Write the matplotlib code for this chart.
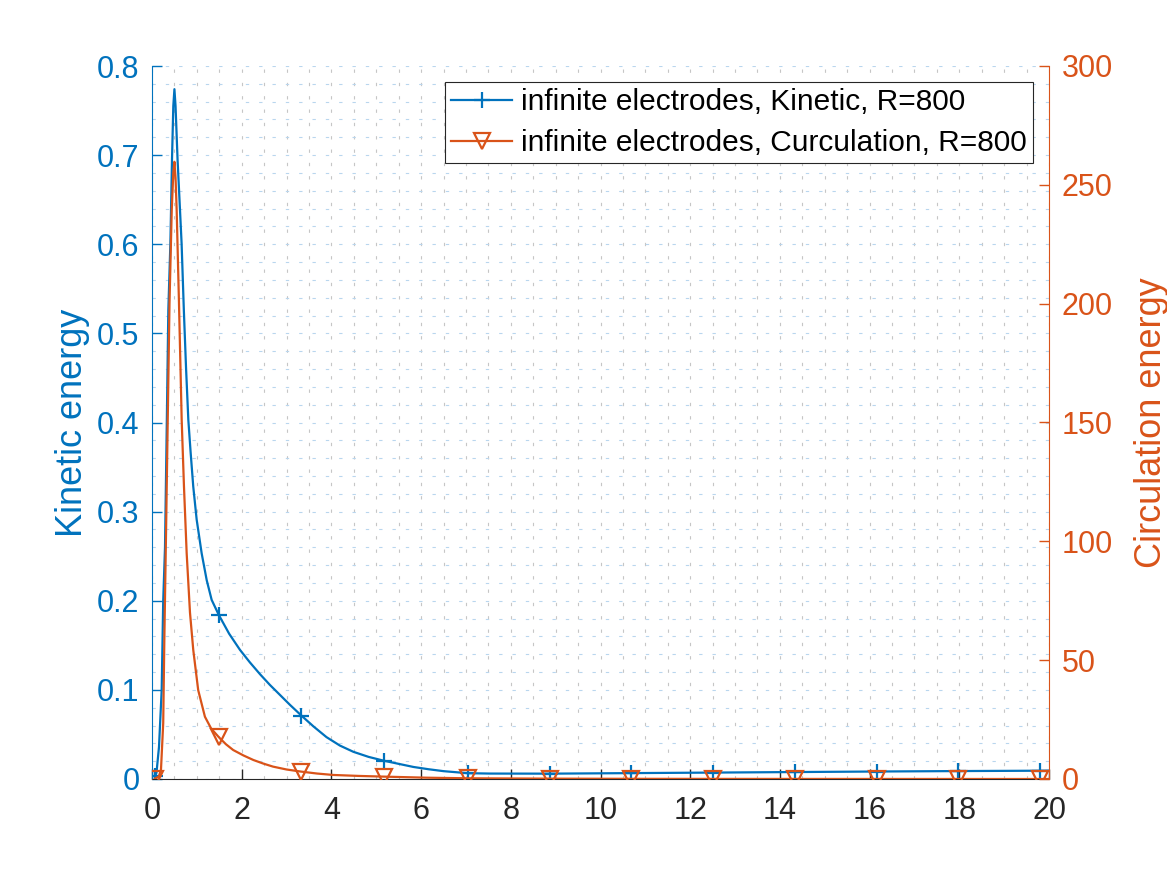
import matplotlib
matplotlib.use("Agg")
import matplotlib.pyplot as plt
import numpy as np
from matplotlib.ticker import MultipleLocator, FormatStrFormatter

plt.rcParams["font.family"] = ["Liberation Sans", "DejaVu Sans"]

BLUE = "#0072BD"
ORANGE = "#D95319"
DARK = "#262626"

# Kinetic energy (left axis)
kin_x = [0.07, 0.10, 0.156, 0.216, 0.25, 0.29, 0.33, 0.364, 0.41, 0.446, 0.475, 0.50,
         0.525, 0.57, 0.66, 0.71, 0.76, 0.81, 0.862, 0.92, 0.996, 1.108, 1.22, 1.33,
         1.49, 1.72, 1.96, 2.18, 2.41, 2.63, 2.85, 3.08, 3.33, 3.60, 3.89, 4.19, 4.49,
         4.83, 5.17, 5.50, 5.83, 6.16, 6.50, 7.04, 7.54, 8.87, 10.68, 12.51, 14.34,
         16.16, 17.98, 19.81, 20.0]
kin_y = [0.003, 0.007, 0.036, 0.10, 0.20, 0.26, 0.40, 0.526, 0.601, 0.695, 0.755, 0.774,
         0.755, 0.695, 0.601, 0.526, 0.46, 0.403, 0.366, 0.328, 0.291, 0.253, 0.223, 0.201,
         0.184, 0.163, 0.145, 0.131, 0.1175, 0.1055, 0.0945, 0.083, 0.0712, 0.059, 0.047,
         0.0375, 0.0305, 0.0248, 0.0205, 0.017, 0.0135, 0.011, 0.0088, 0.0065, 0.0061,
         0.0060, 0.0066, 0.0072, 0.0078, 0.0084, 0.0089, 0.0093, 0.0094]

# Circulation energy (right axis)
circ_x = [0.07, 0.15, 0.20, 0.25, 0.275, 0.31, 0.39, 0.44, 0.475, 0.50, 0.525, 0.55,
          0.60, 0.662, 0.713, 0.773, 0.847, 0.92, 1.03, 1.18, 1.32, 1.49, 1.65, 1.81,
          2.04, 2.26, 2.48, 2.70, 3.0, 3.33, 3.68, 4.04, 4.6, 5.17, 6.12, 7.04, 8.87,
          10.68, 12.51, 14.34, 16.16, 17.98, 19.81, 20.0]
circ_y = [0.2, 1.0, 3.8, 23.5, 58.5, 100.0, 200.0, 239.4, 255.0, 259.7, 253.0, 239.4,
          201.5, 151.0, 123.0, 95.0, 70.0, 54.3, 37.4, 26.2, 21.2, 17.6, 14.6, 12.2,
          9.9, 8.0, 6.5, 5.2, 4.0, 3.1, 2.3, 1.7, 1.3, 1.0, 0.55, 0.3, 0.15,
          0.08, 0.05, 0.03, 0.02, 0.01, 0.0, 0.0]

# x positions carrying markers
marker_x = [0.07, 1.49, 3.33, 5.17, 7.04, 8.87, 10.68, 12.51, 14.34, 16.16, 17.98, 19.81]

kin_label = "infinite electrodes, Kinetic, R=800"
circ_label = "infinite electrodes, Curculation, R=800"

kin_marks = list(np.where(np.isin(kin_x, marker_x))[0])
circ_marks = list(np.where(np.isin(circ_x, marker_x))[0])

fig = plt.figure(figsize=(11.67, 8.75), dpi=100)
ax = fig.add_axes([152 / 1167, 96 / 875, 897 / 1167, 713 / 875])
ax2 = ax.twinx()

ax.set_xlim(0, 20)
ax.set_ylim(0, 0.8)
ax2.set_ylim(0, 300)

ax.xaxis.set_major_locator(MultipleLocator(2))
ax.xaxis.set_minor_locator(MultipleLocator(0.5))
ax.yaxis.set_major_locator(MultipleLocator(0.1))
ax.yaxis.set_minor_locator(MultipleLocator(0.02))
ax.yaxis.set_major_formatter(FormatStrFormatter("%g"))
ax2.yaxis.set_major_locator(MultipleLocator(50))

# grid: grey vertical, light blue horizontal, all dotted
ax.grid(which="both", axis="x", color="#c6c6c6", linestyle=(0, (3, 9)), linewidth=0.8)
ax.grid(which="both", axis="y", color="#b9d6ee", linestyle=(0, (3, 9)), linewidth=0.8)
ax.set_axisbelow(True)

l1, = ax.plot(kin_x, kin_y, color=BLUE, lw=1.6, marker="+", markevery=kin_marks,
              ms=11, mew=1.6, label=kin_label)
l2, = ax2.plot(circ_x, circ_y, color=ORANGE, lw=1.6, marker="v", markevery=circ_marks,
               ms=11, mew=1.6, mfc="none", label=circ_label)

for a in (ax, ax2):
    a.spines["top"].set_visible(False)
ax.spines["right"].set_visible(False)
ax2.spines["left"].set_visible(False)
ax2.spines["bottom"].set_visible(False)
ax.spines["left"].set_color(BLUE)
ax2.spines["right"].set_color(ORANGE)
ax.spines["bottom"].set_color(DARK)

ax.tick_params(axis="x", which="major", direction="in", length=7, width=1, colors=DARK,
               labelsize=22, pad=12)
ax.tick_params(axis="y", which="major", direction="in", length=7, width=1, colors=BLUE,
               labelsize=22, pad=9)
ax.tick_params(which="minor", length=0)
ax2.tick_params(axis="y", which="major", direction="in", length=7, width=1, colors=ORANGE,
                labelsize=22, pad=9)
ax2.tick_params(which="minor", length=0)

ax.set_ylabel("Kinetic energy", fontsize=26, color=BLUE, labelpad=5)
ax2.set_ylabel("Circulation energy", fontsize=26, color=ORANGE, labelpad=15)

leg = ax2.legend([l1, l2], [kin_label, circ_label], loc="upper right",
                 bbox_to_anchor=(1033 / 1167, 1 - 82 / 875), bbox_transform=fig.transFigure,
                 borderaxespad=0, fontsize=21.5, fancybox=False, framealpha=1,
                 edgecolor=DARK, handlelength=2.05, handletextpad=0.3, borderpad=0.2,
                 labelspacing=0.45)
leg.get_frame().set_linewidth(0.8)

fig.savefig("out.png", dpi=100, facecolor="white")
